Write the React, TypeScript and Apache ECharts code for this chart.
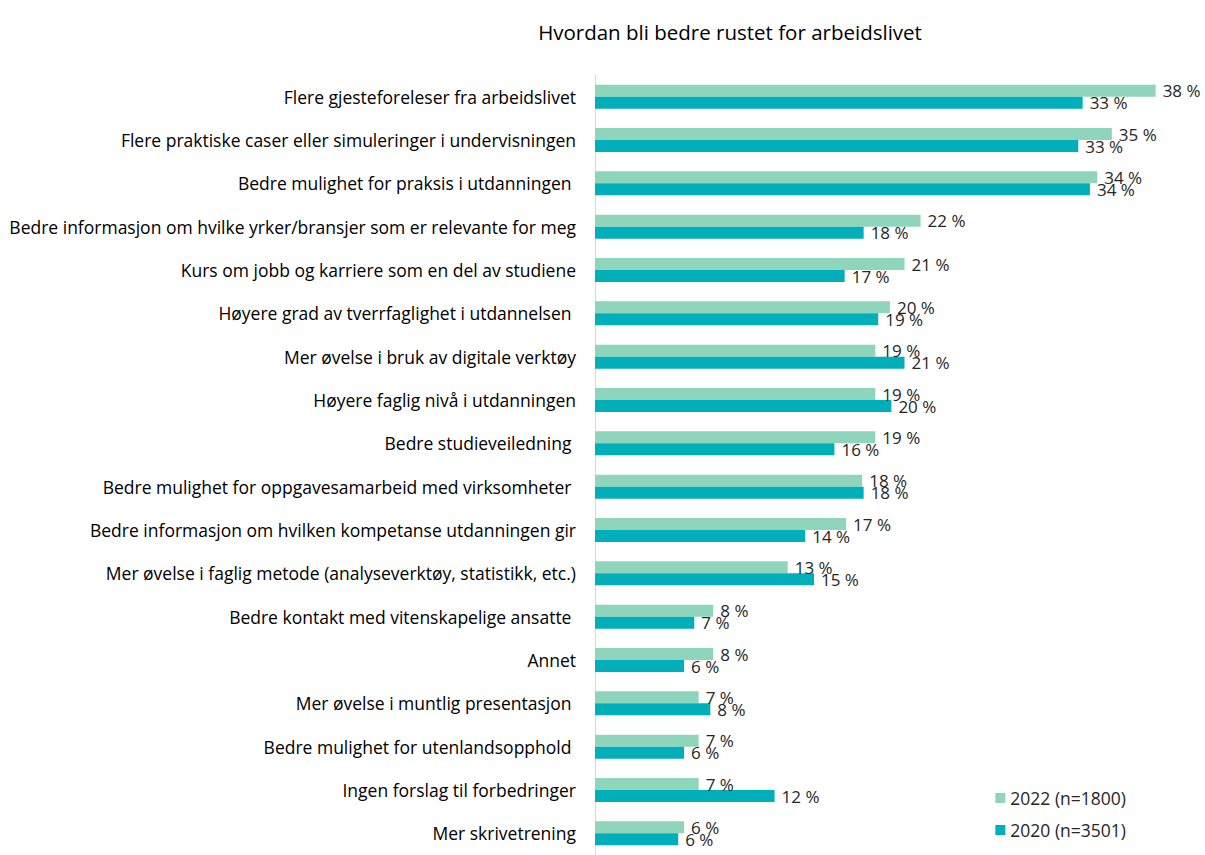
import React, { useEffect, useRef } from "react";
import * as echarts from "echarts";

const categories = [
  "Flere gjesteforeleser fra arbeidslivet",
  "Flere praktiske caser eller simuleringer i undervisningen",
  "Bedre mulighet for praksis i utdanningen ",
  "Bedre informasjon om hvilke yrker/bransjer som er relevante for meg",
  "Kurs om jobb og karriere som en del av studiene",
  "Høyere grad av tverrfaglighet i utdannelsen ",
  "Mer øvelse i bruk av digitale verktøy",
  "Høyere faglig nivå i utdanningen",
  "Bedre studieveiledning ",
  "Bedre mulighet for oppgavesamarbeid med virksomheter ",
  "Bedre informasjon om hvilken kompetanse utdanningen gir",
  "Mer øvelse i faglig metode (analyseverktøy, statistikk, etc.)",
  "Bedre kontakt med vitenskapelige ansatte ",
  "Annet",
  "Mer øvelse i muntlig presentasjon ",
  "Bedre mulighet for utenlandsopphold ",
  "Ingen forslag til forbedringer",
  "Mer skrivetrening",
];

const values2022 = [38.4, 35.4, 34.4, 22.3, 21.2, 20.2, 19.2, 19.2, 19.2, 18.3, 17.2, 13.2, 8.1, 8.1, 7.1, 7.1, 7.1, 6.1];
const values2020 = [33.4, 33.1, 33.9, 18.4, 17.1, 19.4, 21.2, 20.3, 16.4, 18.4, 14.4, 15.0, 6.8, 6.1, 7.9, 6.1, 12.3, 5.7];

const seriesNames = ["2022 (n=1800)", "2020 (n=3501)"];
const colors = ["#8FD5BB", "#00AFB9"];
const title = "Hvordan bli bedre rustet for arbeidslivet";

const FONT = "'Open Sans', 'Noto Sans', sans-serif";

export default function App() {
  const ref = useRef<HTMLDivElement>(null);
  useEffect(() => {
    document.body.style.margin = "0";
    const chart = echarts.init(ref.current!, null, { renderer: "svg" });
    const label = {
      show: true,
      position: "right" as const,
      distance: 7,
      fontSize: 17,
      color: "#262626",
      fontFamily: FONT,
      formatter: (p: any) => Math.round(p.value) + " %",
    };
    chart.setOption({
      animation: false,
      textStyle: { fontFamily: FONT },
      title: {
        text: title,
        left: 725,
        textAlign: "center",
        top: 16,
        textStyle: { fontSize: 20.5, fontWeight: "normal", color: "#000", fontFamily: FONT },
      },
      legend: {
        orient: "vertical",
        right: 74,
        top: 784,
        itemWidth: 10,
        itemHeight: 10,
        itemGap: 14,
        icon: "rect",
        textStyle: { fontSize: 17.5, color: "#262626", fontFamily: FONT },
        data: seriesNames,
      },
      grid: { left: 595, right: 26, top: 75, height: 788, containLabel: false },
      xAxis: {
        type: "value",
        min: 0,
        max: 40,
        show: false,
      },
      yAxis: {
        type: "category",
        inverse: true,
        data: categories,
        axisLine: { show: true, lineStyle: { color: "#D9D9D9", width: 1 } },
        axisTick: { show: false },
        axisLabel: { fontSize: 17.5, color: "#000", margin: 19, fontFamily: FONT },
      },
      series: [
        {
          name: seriesNames[0],
          type: "bar",
          data: values2022,
          barWidth: 12,
          barGap: "0%",
          itemStyle: { color: colors[0] },
          label,
        },
        {
          name: seriesNames[1],
          type: "bar",
          data: values2020,
          barWidth: 12,
          barGap: "0%",
          itemStyle: { color: colors[1] },
          label,
        },
      ],
    });
    return () => chart.dispose();
  }, []);
  return <div ref={ref} style={{ width: 1205, height: 855 }} />;
}
